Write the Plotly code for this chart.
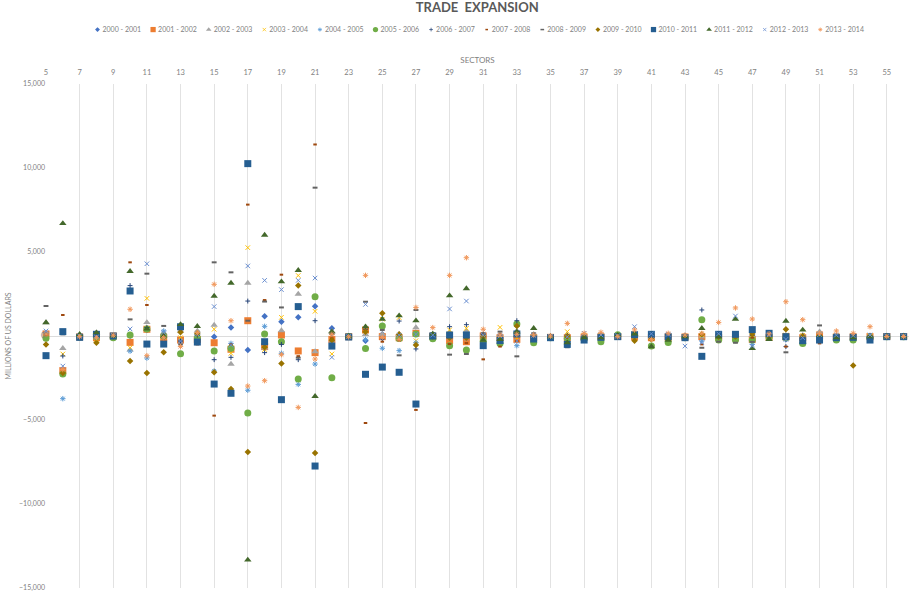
import plotly.graph_objects as go

sectors = list(range(5, 57))
s2000 = [150,-2100,-50,100,30,20,350,100,-200,100,-40,500,-830,1170,850,1110,1770,460,-30,-280,100,-100,200,50,-100,-200,50,-50,200,-50,-50,-20,-30,-30,-20,50,-20,-30,-30,-40,-50,-40,-100,-50,-200,-100,-100,-40,-40,-30,-20,-20]
s2001 = [120,-2060,-50,-100,0,-380,400,-100,-240,-200,-400,-790,910,-630,60,-890,-990,-200,-40,360,-40,-100,160,-20,-280,-340,0,-100,-200,-100,-80,-100,-60,-50,-30,-50,-100,-80,-60,-40,-80,-100,-200,-80,-40,-100,60,-60,-50,-40,-30,-30]
s2002 = [800,-730,50,200,30,-830,810,200,300,300,655,-1670,3150,-700,320,2500,-930,260,-20,100,100,100,500,100,200,300,100,100,300,100,0,-100,60,50,40,100,-50,50,30,-40,50,30,50,50,50,50,260,30,20,30,10,10]
s2003 = [50,-1070,-20,-200,-30,-700,2240,-50,-100,-50,400,-1030,5260,-800,1110,3600,1470,-1070,-20,300,1000,1100,-280,60,360,460,50,515,-100,-50,-20,260,50,30,30,150,-50,20,-20,40,30,30,50,40,60,40,80,20,20,20,0,0]
s2004 = [200,-3730,0,50,20,-900,-1310,300,-300,100,-2080,-440,-3230,575,-1030,-2880,-1670,-300,-10,-200,-730,-870,-400,100,-100,-150,-100,-50,-575,-30,-30,-100,-20,0,10,100,-100,-20,-50,-300,-20,-30,-500,30,-150,-200,-100,-20,-30,-20,-10,-10]
s2005 = [-140,-2260,-60,-50,-100,60,420,0,-1050,-100,-890,-730,-4580,120,-340,-2560,2340,-2480,-30,-750,600,-150,120,-160,-575,-830,-300,-440,710,-400,-100,-140,-200,-340,80,50,-600,-380,-100,970,-240,-240,-240,-70,-100,-440,-150,-240,-240,-100,-40,-40]
s2006 = [100,-1190,0,50,10,3000,500,-100,-300,50,-1410,-1270,2080,-990,-500,-1410,910,100,0,400,-200,890,-770,40,555,675,100,50,910,20,0,50,10,20,10,100,-30,10,0,1550,20,20,40,20,-630,30,20,10,10,10,0,0]
s2007 = [50,1250,-30,-20,0,4385,1845,100,300,-500,-4740,-500,7820,2140,3650,-1200,11400,-140,-20,-5180,-340,-260,-4400,-30,-480,-420,-1390,-630,-300,-100,-30,-100,-60,-60,-40,-20,-200,-50,-30,-500,-60,-80,-100,-60,-630,-150,-440,-50,-40,-40,-20,-20]
s2008 = [1785,100,-40,-30,-20,990,3710,600,-500,-300,4385,3790,910,2050,1700,-1290,8830,120,-30,2040,360,-1150,1550,150,-1110,-1070,160,260,-1210,160,-40,-670,-50,-40,-30,50,-100,-30,-50,-700,-340,-400,-350,-50,-970,-100,630,-40,-30,-30,-20,-20]
s2009 = [-500,-2200,-60,-400,-50,-1490,-2200,-970,220,160,-2160,-3150,-6900,-670,-1630,3000,-6960,-250,-40,260,1350,100,-540,-50,-100,-100,-50,-100,600,-50,-50,0,-80,-80,-50,-280,-200,-100,-80,100,-40,-30,120,-40,400,-20,-30,-40,-1750,-50,-30,-30]
s2010 = [-1170,260,-80,100,0,2680,-480,-480,550,-360,-2860,-3410,10260,-340,-3790,1750,-7740,-600,-60,-2280,-1850,-2160,-4050,0,60,60,-575,-270,120,-180,-100,-500,-240,-80,-40,80,100,-40,-100,-1210,100,100,380,160,-40,-280,-240,-100,-80,-240,-40,-40]
s2011 = [800,6700,100,200,-10,3850,420,0,690,575,2380,3150,-13330,6010,3230,3910,-3590,260,-30,555,1010,1210,910,120,2400,2820,-240,-200,240,455,-50,-400,-100,-100,50,130,-630,-240,-40,455,-50,1010,-730,-200,890,360,50,-90,-90,-40,-30,-30]
s2012 = [300,-1790,20,-50,30,420,4300,200,-300,100,1750,-550,4170,3310,2760,3310,3450,-1270,-20,1880,-100,50,100,50,1610,2080,50,0,-300,30,-20,-50,160,60,20,555,130,100,-600,-400,130,1190,-600,60,-200,-100,80,50,30,60,10,10]
s2013 = [100,-2000,-40,-100,50,1590,-1170,-100,-630,200,3075,910,-2980,-2660,-1110,-4250,-1370,100,-50,3610,-80,-200,1700,500,3610,4660,400,60,100,60,0,750,160,220,-40,360,-200,160,50,160,810,1670,1010,130,2040,970,160,300,160,555,-30,-30]

series = [
    ("2000 - 2001", s2000, "diamond", "#4472C4", 5),
    ("2001 - 2002", s2001, "square", "#ED7D31", 7),
    ("2002 - 2003", s2002, "triangle-up", "#A5A5A5", 6.5),
    ("2003 - 2004", s2003, "x-thin-open", "#FFC000", 4.5),
    ("2004 - 2005", s2004, "asterisk-open", "#5B9BD5", 4.5),
    ("2005 - 2006", s2005, "circle", "#70AD47", 7),
    ("2006 - 2007", s2006, "cross-thin-open", "#264478", 3.5),
    ("2007 - 2008", s2007, "line-ew-open", "#9E480E", 2.5),
    ("2008 - 2009", s2008, "line-ew-open", "#636363", 3.5),
    ("2009 - 2010", s2009, "diamond", "#997300", 5),
    ("2010 - 2011", s2010, "square", "#255E91", 7),
    ("2011 - 2012", s2011, "triangle-up", "#43682B", 6.5),
    ("2012 - 2013", s2012, "x-thin-open", "#698ED0", 4.5),
    ("2013 - 2014", s2013, "asterisk-open", "#F1975A", 4.5),
]

fig = go.Figure()
for name, vals, sym, col, size in series:
    open_sym = "open" in sym
    fig.add_trace(go.Scatter(
        x=sectors, y=vals, name=name, mode="markers", cliponaxis=False,
        marker=dict(symbol=sym, size=size, color=col,
                    line=dict(color=col, width=2 if "line" in sym else (1 if open_sym else 0))),
    ))

GREY = "#7f7f7f"
fig.update_layout(
    width=909, height=596, autosize=False,
    margin=dict(l=46, r=0, t=84, b=8, autoexpand=False),
    paper_bgcolor="white", plot_bgcolor="white",
    font=dict(family="Lato, Open Sans, sans-serif", size=7, color=GREY),
    title=dict(text="<b>TRADE  EXPANSION</b>", x=0.525, xanchor="center", y=0.988, yanchor="middle",
               font=dict(size=13, color="#595959")),
    legend=dict(orientation="h", x=0.0365, xanchor="left", y=1.108, yanchor="middle",
                entrywidth=10.6, entrywidthmode="pixels", itemwidth=30,
                tracegroupgap=0, font=dict(size=7, color=GREY), traceorder="normal",
                itemclick=False, itemdoubleclick=False),
    xaxis=dict(side="top", range=[5, 56.32], tick0=5, dtick=2, showgrid=True, gridcolor="#e2e2e2", gridwidth=1,
               zeroline=False, showline=False, ticks="", ticklabelstandoff=7, automargin=True,
               tickfont=dict(size=7.5, color=GREY),
               title=dict(text="SECTORS", standoff=2, font=dict(size=8, color=GREY))),
    yaxis=dict(range=[-15000, 15000], dtick=5000, tickformat=",", showgrid=False, automargin=True,
               zeroline=True, zerolinecolor="#dcdcdc", zerolinewidth=1, showline=False, ticks="",
               tickfont=dict(size=7, color=GREY),
               title=dict(text="MILLIONS OF US DOLLARS", standoff=6, font=dict(size=7, color=GREY))),
)

legend_fix = """
document.body.style.margin = '0';
setTimeout(function(){
  document.querySelectorAll('.legendtext').forEach(function(t){ t.setAttribute('x', +t.getAttribute('x') - 15); });
  document.querySelectorAll('.legend .scrollbox').forEach(function(s){ s.removeAttribute('clip-path'); });
  document.querySelectorAll('.legendpoints path').forEach(function(p){
    var tr = p.getAttribute('transform') || '';
    p.setAttribute('transform', tr + ' scale(0.75)');
  });
}, 30);
"""
fig.write_html("out.html", post_script=legend_fix, config={"displayModeBar": False})
